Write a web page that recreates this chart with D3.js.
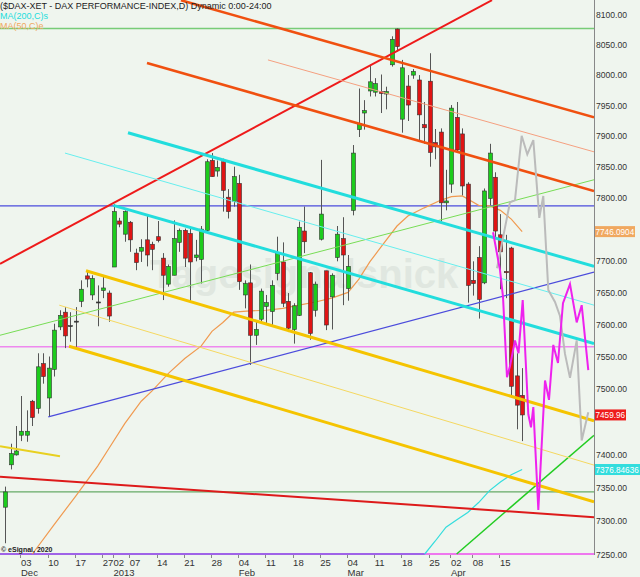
<!DOCTYPE html>
<html>
<head>
<meta charset="utf-8">
<script src="https://d3js.org/d3.v7.min.js"></script>
<style>
  body { margin: 0; background: #eff5ee; }
  text { font-family: "Liberation Sans", Arial, sans-serif; }
</style>
</head>
<body>
<div id="chart"></div>
<script>
// daily bars, index 0 = 03 Dec 2012 (trading days only)
const firstBar = -3;
const opens  = [7320,7384,7399, 7429,7429,7481,7470,7539,7486,7530,7596,7619,7598,7605,7636,7676,7646,7635,7653,7649,
  7690,7763,7742,7761,7712,7715,7733,7726,7738,7704,7663,7677,7729,7748,7743,7705,7702,7748,7860,7843,7858,7801,7794,
  7823,7646,7665,7583,7608,7628,7620,7680,7698,7636,7592,7614,7747,7681,7622,7734,7684,7643,7705,7735,7656,7780,7910,
  7937,7973,7971,7972,7968,8016,8075,7927,7981,7999,7991,7918,7989,7889,7906,7792,7822,7930,7903,7822,7669,7705,7665,
  7799,7833,7741,7683,7720,7520,7490];
const highs  = [7351,7416,7443, 7489,7467,7483,7555,7555,7550,7601,7622,7627,7619,7627,7669,7684,7677,7661,7676,7653,
  7790,7768,7780,7763,7719,7734,7771,7730,7763,7712,7694,7764,7751,7751,7751,7733,7755,7862,7872,7860,7863,7814,7850,
  7837,7669,7694,7604,7656,7646,7669,7738,7729,7649,7633,7762,7786,7682,7667,7861,7684,7680,7755,7769,7709,7885,7977,
  7958,8016,7994,8000,7980,8063,8076,8024,7999,8009,7999,7955,8035,7911,7912,7845,7950,7955,7912,7825,7699,7723,7815,
  7887,7841,7774,7741,7722,7555,7532];
const lows   = [7266,7377,7398, 7420,7419,7443,7462,7508,7457,7519,7591,7563,7573,7565,7627,7658,7638,7597,7641,7604,
  7690,7753,7730,7714,7685,7698,7691,7685,7729,7638,7659,7677,7714,7690,7635,7699,7664,7746,7834,7834,7778,7767,7786,
  7654,7625,7537,7568,7604,7599,7596,7669,7627,7588,7570,7613,7712,7576,7612,7732,7591,7592,7699,7630,7637,7772,7898,
  7910,7964,7964,7937,7943,8013,8038,7905,7924,7993,7890,7887,7850,7862,7762,7780,7808,7874,7804,7634,7645,7609,7663,
  7788,7734,7655,7641,7488,7438,7420];
const closes = [7343,7401,7405, 7435,7435,7456,7534,7519,7532,7591,7614,7582,7598,7605,7655,7671,7672,7635,7657,7613,
  7778,7758,7778,7733,7697,7721,7709,7718,7732,7677,7691,7735,7748,7704,7698,7709,7750,7858,7834,7849,7812,7778,7834,
  7667,7664,7583,7592,7652,7634,7661,7712,7633,7594,7629,7753,7730,7586,7663,7774,7599,7677,7742,7709,7691,7872,7920,
  7941,7988,7985,7969,7972,8058,8046,8011,7950,8005,7934,7913,7873,7882,7792,7795,7945,7877,7819,7661,7664,7639,7811,
  7872,7747,7714,7681,7504,7475,7459.96];

// moving averages, [bar, value]
const ma50 = [[2,7250],[6,7294],[10,7337],[14,7382],[16,7408],[19,7447],[22,7481],[24,7497],[27,7524],[30,7547],
  [33,7566],[35,7589],[37,7603],[39,7619],[42,7621],[45,7622],[48,7625],[51,7630],[54,7635],[57,7641],[60,7650],
  [62,7671],[64,7698],[66,7721],[69,7755],[71,7771],[74,7784],[77,7796],[79,7802],[81,7803],[82,7798],[84,7788],
  [86,7787],[88,7780],[90,7766],[92,7746.0904]];
const ma200 = [[74.1,7250],[76,7269],[78,7290],[80,7301],[82,7312],[84,7327],[86,7345],[88,7358],[90,7369],[92,7376.84636]];

// hand drawn trend lines, [bar, price] end points
const redRising     = [[-3.95,7695],[86.46,8123]];
const redFalling    = [[-3.95,7366],[105.2,7305]];
const blueRising    = [[4.92,7457],[105.2,7682]];
const greenThin     = [[-3.95,7583],[105.2,7829]];
const greenBright   = [[79.96,7250],[105.2,7429]];
const orangeUpper   = [[29.3,8123],[105.2,7930]];
const orangeLower   = [[23.06,8019],[105.2,7811]];
const salmonThin    = [[45.29,8024],[105.2,7874]];
const cyanUpper     = [[19.57,7905],[105.2,7691]];
const cyanLower     = [[16.87,7788],[105.2,7570]];
const cyanThin      = [[7.99,7872],[105.2,7630]];
const goldUpper     = [[11.85,7684],[105.2,7451]];
const goldThin      = [[6.94,7630],[105.2,7383.5]];
const goldLower     = [[8.73,7566],[105.2,7328]];
const yellowShort   = [[-3.95,7412],[7.07,7397]];
const blueBottom    = [[-3.95,7250],[74.1,7250]];

// horizontal levels
const levelGreenTop = 8076;
const levelBlue     = 7787;
const levelPink     = 7565;
const levelGreenLow = 7343;
const levelPinkLow  = 7250;

// projections drawn into the future
const grayPath = [[87.38,7688],[89.76,7793],[90.68,7796],[91.91,7900],[92.94,7870],[94.05,7893],[95.15,7768],
  [95.88,7803],[96.8,7654],[98.03,7635],[98.95,7613],[99.87,7554],[100.79,7517],[102.02,7575],[102.94,7421],[104.15,7464]];
const magentaPath = [[86.65,7745],[87.93,7685],[88.48,7643],[89.21,7518],[89.76,7535],[90.68,7575],[91.33,7555],
  [92.1,7638],[93.13,7461],[93.62,7441],[94.05,7472],[94.97,7316],[96.2,7513],[96.93,7483],[97.72,7568],[98.58,7540],
  [99.5,7633],[100.79,7663],[102.02,7603],[102.94,7630],[104.15,7529]];

// axes
const priceTicks = d3.range(7250, 8101, 50);
const dayTicks   = [0,5,10,15,17,20,25,30,35,40,45,50,55,60,65,70,75,79,83,88];
const dayLabels  = ['03','10','17','27','02','07','14','21','28','04','11','18','25','04','11','18','25','02','08','15'];
const monthTicks = [0,17,40,60,79];
const monthLabels = ['Dec','2013','Feb','Mar','Apr'];

const W = 640, H = 577, plotW = 594, plotB = 554;

const svg = d3.select('#chart').append('svg')
  .attr('width', W).attr('height', H)
  .style('background', '#eff5ee');

const x = d3.scaleLinear().domain([-3.95, 105.2]).range([0, plotW]);
const y = d3.scaleLog().domain([7250, 8100]).range([plotB, 14]);

svg.append('clipPath').attr('id', 'plot')
  .append('rect').attr('x', 0).attr('y', 0).attr('width', plotW).attr('height', plotB + 1);

const g = svg.append('g').attr('clip-path', 'url(#plot)');

// faint watermark
g.append('text')
  .attr('x', 150).attr('y', 288)
  .attr('font-size', 40).attr('font-weight', 'bold')
  .attr('fill', '#e0e7e0')
  .text('Tagesignalsnick');

const line = d3.line().x(d => x(d[0])).y(d => y(d[1]));

function hLevel(price, color, width) {
  g.append('line')
    .attr('x1', 0).attr('x2', plotW)
    .attr('y1', y(price)).attr('y2', y(price))
    .attr('stroke', color).attr('stroke-width', width);
}

function trend(pts, color, width) {
  g.append('path').datum(pts)
    .attr('d', line)
    .attr('fill', 'none')
    .attr('stroke', color).attr('stroke-width', width);
}

hLevel(levelGreenTop, '#77cc77', 1.5);
hLevel(levelBlue, '#4b4bdc', 1.2);
hLevel(levelPink, '#ee88ee', 1.5);
hLevel(levelGreenLow, '#66aa66', 1.2);
hLevel(levelPinkLow, '#ee77ee', 2);
trend(blueBottom, '#5050e0', 1.2);

// moving averages
trend(ma200, '#33dddd', 1.2);
trend(ma50, '#f09a50', 1.2);

// candles
const bars = opens.map((o, i) => ({ i: firstBar + i, o: o, h: highs[i], l: lows[i], c: closes[i] }));

const candle = g.append('g').selectAll('g').data(bars).join('g');

candle.append('line')
  .attr('x1', d => Math.round(x(d.i)) + 0.5).attr('x2', d => Math.round(x(d.i)) + 0.5)
  .attr('y1', d => y(d.h)).attr('y2', d => y(d.l))
  .attr('stroke', '#555').attr('stroke-width', 1);

candle.append('rect')
  .attr('x', d => Math.round(x(d.i)) - 1.5)
  .attr('width', 4)
  .attr('y', d => y(Math.max(d.o, d.c)))
  .attr('height', d => Math.max(1, Math.abs(y(d.o) - y(d.c))))
  .attr('fill', d => Math.abs(d.o - d.c) < 1 ? '#333' : (d.c > d.o ? '#1ccc1c' : '#e01414'))
  .attr('stroke', '#333').attr('stroke-width', 0.6);

// trend lines
trend(greenThin, '#77dd55', 1);
trend(greenBright, '#22cc22', 1.5);
trend(blueRising, '#4b4bdc', 1.2);
trend(redRising, '#ee1a1a', 2);
trend(redFalling, '#dd1a1a', 2);
trend(yellowShort, '#e8d020', 2);
trend(orangeUpper, '#f05010', 2.5);
trend(orangeLower, '#f05010', 2.5);
trend(salmonThin, '#f5a080', 1);
trend(cyanUpper, '#22dddd', 3);
trend(cyanLower, '#22dddd', 3);
trend(cyanThin, '#66eeee', 1);
trend(goldUpper, '#f5c400', 3);
trend(goldThin, '#f5d860', 1);
trend(goldLower, '#f5c400', 3);

// projections
trend(grayPath, '#bbbbbb', 2);
trend(magentaPath, '#ee22ee', 2);

// price axis
svg.append('line')
  .attr('x1', plotW + 0.5).attr('x2', plotW + 0.5)
  .attr('y1', 0).attr('y2', plotB + 1)
  .attr('stroke', '#888');

const tagValues = [ma50[ma50.length - 1][1], closes[closes.length - 1], ma200[ma200.length - 1][1]];

svg.append('g').selectAll('text')
  .data(priceTicks.filter(p => tagValues.every(t => Math.abs(y(p) - y(t)) > 7)))
  .join('text')
  .attr('x', plotW + 2).attr('y', d => y(d) + 3.5)
  .attr('font-size', 9.5).attr('fill', '#333')
  .attr('textLength', 31).attr('lengthAdjust', 'spacingAndGlyphs')
  .text(d => d.toFixed(2));

function priceTag(value, label, bg, w) {
  const yy = y(value);
  svg.append('rect')
    .attr('x', plotW + 1).attr('y', yy - 5.5)
    .attr('width', w).attr('height', 11)
    .attr('fill', bg);
  svg.append('text')
    .attr('x', plotW + 1.5).attr('y', yy + 3.3)
    .attr('font-size', 8.2).attr('fill', '#fff')
    .text(label);
}
priceTag(tagValues[0], '7746.0904', '#f0a860', 40);
priceTag(tagValues[1], '7459.96', '#ee1c1c', 31);
priceTag(tagValues[2], '7376.84636', '#33dddd', 45);

// time axis
svg.append('g').selectAll('line').data(dayTicks).join('line')
  .attr('x1', d => Math.round(x(d)) - 0.5).attr('x2', d => Math.round(x(d)) - 0.5)
  .attr('y1', plotB + 1).attr('y2', plotB + 4)
  .attr('stroke', '#888');

svg.append('g').selectAll('text').data(dayTicks).join('text')
  .attr('x', d => x(d) - 0.5).attr('y', 566)
  .attr('font-size', 9.5).attr('fill', '#333')
  .text((d, i) => dayLabels[i]);

svg.append('g').selectAll('text').data(monthTicks).join('text')
  .attr('x', d => x(d) - 0.5).attr('y', 576)
  .attr('font-size', 9.5).attr('fill', '#333')
  .text((d, i) => monthLabels[i]);

// header
svg.append('text').attr('x', 0).attr('y', 9).attr('font-size', 9).attr('fill', '#222')
  .text('($DAX-XET - DAX PERFORMANCE-INDEX,D) Dynamic 0:00-24:00');
svg.append('text').attr('x', 0).attr('y', 19).attr('font-size', 9).attr('fill', '#22dddd')
  .text('MA(200,C)s');
svg.append('text').attr('x', 0).attr('y', 29).attr('font-size', 9).attr('fill', '#f0a860')
  .text('MA(50,C)e');

svg.append('text').attr('x', 1).attr('y', 552).attr('font-size', 7).attr('font-weight', 'bold').attr('fill', '#222')
  .text('© eSignal, 2020');
</script>
</body>
</html>
